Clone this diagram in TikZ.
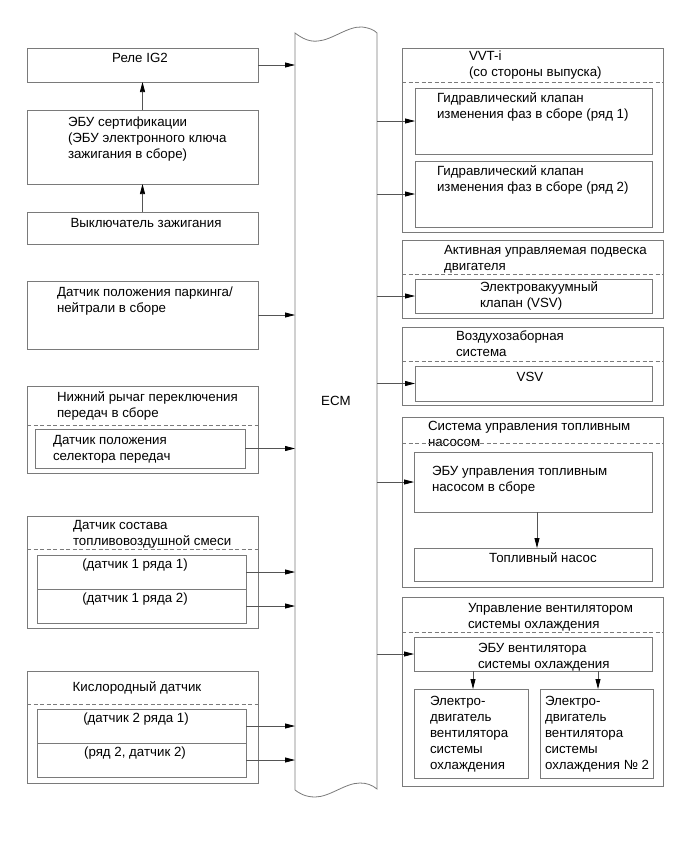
\documentclass[tikz,border=0pt]{standalone}
\usepackage{fontspec}
\setmainfont{Liberation Sans}
\usetikzlibrary{arrows.meta,fit}
\definecolor{boxgray}{HTML}{7A7A7A}
\definecolor{linegray}{HTML}{555555}
\tikzset{
  box/.style={draw=boxgray, line width=0.8pt, inner sep=0pt, outer sep=0pt},
  txt/.style={inner sep=0pt, outer sep=0pt, align=left, anchor=north west, font=\fontsize{13.3}{16}\selectfont},
  ctxt/.style={inner sep=0pt, outer sep=0pt, align=center, anchor=north, font=\fontsize{13.3}{16}\selectfont},
  dashline/.style={draw=boxgray, line width=0.7pt, dash pattern=on 4pt off 2.5pt},
  arr/.style={draw=linegray, line width=0.75pt, -{Triangle[length=10pt,width=5pt,color=black]}},
}
\begin{document}
\begin{tikzpicture}[x=1pt,y=-1pt]
\useasboundingbox (0,0) rectangle (691,855);
% ECM
\node[inner sep=0pt, outer sep=0pt, fit={(295,33) (377,790)}] (ecm) {};
\draw[draw=boxgray, line width=0.8pt] (295,790) -- (295,33)
  .. controls (303,39) and (310,42) .. (318,41)
  .. controls (332,40) and (348,26) .. (362,27)
  .. controls (370,28) and (374,30) .. (377,33)
  -- (377,789)
  .. controls (372,785) and (367,783) .. (360,783)
  .. controls (345,783) and (330,797) .. (315,797)
  .. controls (305,797) and (299,793) .. (295,790);
\node[inner sep=0pt, font=\fontsize{13.3}{16}\selectfont] (ecmt) at (336,401) {ECM};

% ---------- left column ----------
\node[box, fit={(27,48) (258,82)}] (b1) {};
\node[ctxt] (t1) at (140,53) {Реле IG2};
\node[box, fit={(27,110) (258,184)}] (b2) {};
\node[txt] (t2) at (68,117) {ЭБУ сертификации\\(ЭБУ электронного ключа\\зажигания в сборе)};
\node[box, fit={(27,212) (258,244)}] (b3) {};
\node[ctxt] (t3) at (146,218) {Выключатель зажигания};

\node[box, fit={(27,281) (258,349)}] (b4) {};
\node[txt] (t4) at (57,287) {Датчик положения паркинга/\\нейтрали в сборе};

\node[box, fit={(27,386) (258,473)}] (b5) {};
\node[txt] (t5) at (57,392) {Нижний рычаг переключения\\передач в сборе};
\draw[dashline] (27,425) -- (258,425);
\node[box, fit={(35,429) (245,468)}] (b5i) {};
\node[txt] (t5i) at (53,435) {Датчик положения\\селектора передач};

\node[box, fit={(27,516) (258,628)}] (b6) {};
\node[txt] (t6) at (73,520) {Датчик состава\\топливовоздушной смеси};
\draw[dashline] (27,549) -- (258,549);
\node[box, fit={(37,555) (246,589)}] (b6a) {};
\node[box, fit={(37,589) (246,623)}] (b6b) {};
\node[ctxt] (t6a) at (135,559) {(датчик 1 ряда 1)};
\node[ctxt] (t6b) at (135,593) {(датчик 1 ряда 2)};

\node[box, fit={(27,671) (258,783)}] (b7) {};
\node[ctxt] (t7) at (137,682) {Кислородный датчик};
\draw[dashline] (27,704) -- (258,704);
\node[box, fit={(37,709) (246,743)}] (b7a) {};
\node[box, fit={(37,743) (246,777)}] (b7b) {};
\node[ctxt] (t7a) at (136,713) {(датчик 2 ряда 1)};
\node[ctxt] (t7b) at (135,747) {(ряд 2, датчик 2)};

% left connectors
\draw[arr] (b3.north) -- (b2.south);
\draw[arr] (b2.north) -- (b1.south);
\draw[arr] (b1.east) -- (b1.east -| ecm.west);
\draw[arr] (b4.east) -- (b4.east -| ecm.west);
\draw[arr] (b5i.east) -- (b5i.east -| ecm.west);
\draw[arr] (b6a.east) -- (b6a.east -| ecm.west);
\draw[arr] (b6b.east) -- (b6b.east -| ecm.west);
\draw[arr] (b7a.east) -- (b7a.east -| ecm.west);
\draw[arr] (b7b.east) -- (b7b.east -| ecm.west);

% ---------- right column ----------
\node[box, fit={(402,48) (663,232)}] (r1) {};
\node[txt] (tr1) at (469,51) {VVT-i\\(со стороны выпуска)};
\draw[dashline] (402,82) -- (663,82);
\node[box, fit={(415,88) (652,154)}] (r1a) {};
\node[txt] (tr1a) at (437,93) {Гидравлический клапан\\изменения фаз в сборе (ряд 1)};
\node[box, fit={(415,161) (652,227)}] (r1b) {};
\node[txt] (tr1b) at (437,166) {Гидравлический клапан\\изменения фаз в сборе (ряд 2)};

\node[box, fit={(402,240) (663,318)}] (r2) {};
\node[txt] (tr2) at (444,245) {Активная управляемая подвеска\\двигателя};
\draw[dashline] (402,274) -- (663,274);
\node[box, fit={(415,279) (652,313)}] (r2a) {};
\node[txt] (tr2a) at (480,282) {Электровакуумный\\клапан (VSV)};

\node[box, fit={(402,327) (663,405)}] (r3) {};
\node[txt] (tr3) at (456,331) {Воздухозаборная\\система};
\draw[dashline] (402,361) -- (663,361);
\node[box, fit={(415,366) (652,401)}] (r3a) {};
\node[ctxt] (tr3a) at (530,372) {VSV};

\node[box, fit={(402,417) (663,587)}] (r4) {};
\node[txt] (tr4) at (428,421) {Система управления топливным\\насосом};
\draw[dashline] (402,443) -- (663,443);
\node[box, fit={(414,452) (652,512)}] (r4a) {};
\node[txt] (tr4a) at (432,466) {ЭБУ управления топливным\\насосом в сборе};
\node[box, fit={(414,548) (652,581)}] (r4b) {};
\node[ctxt] (tr4b) at (543,553) {Топливный насос};

\node[box, fit={(402,597) (663,786)}] (r5) {};
\node[txt] (tr5) at (468,603) {Управление вентилятором\\системы охлаждения};
\draw[dashline] (402,632) -- (663,632);
\node[box, fit={(414,637) (652,671)}] (r5a) {};
\node[txt] (tr5a) at (478,643) {ЭБУ вентилятора\\ системы охлаждения};
\node[box, fit={(414,689) (528,778)}] (r5b) {};
\node[txt] (tr5b) at (430,696) {Электро-\\двигатель\\вентилятора\\системы\\охлаждения};
\node[box, fit={(540,689) (653,778)}] (r5c) {};
\node[txt] (tr5c) at (545,696) {Электро-\\двигатель\\вентилятора\\системы\\охлаждения №~2};

% right connectors
\draw[arr] (ecm.east |- r1a.west) -- (r1a.west);
\draw[arr] (ecm.east |- r1b.west) -- (r1b.west);
\draw[arr] (ecm.east |- r2a.west) -- (r2a.west);
\draw[arr] (ecm.east |- r3a.west) -- (r3a.west);
\draw[arr] (ecm.east |- r4a.west) -- (r4a.west);
\draw[arr] (ecm.east |- r5a.west) -- (r5a.west);
\draw[arr] ([xshift=4pt]r4a.south) -- ([xshift=4pt]r4b.north);
\draw[arr] ([xshift=2pt]r5b.north |- r5a.south) -- ([xshift=2pt]r5b.north);
\draw[arr] ([xshift=1.5pt]r5c.north |- r5a.south) -- ([xshift=1.5pt]r5c.north);
\end{tikzpicture}
\end{document}
